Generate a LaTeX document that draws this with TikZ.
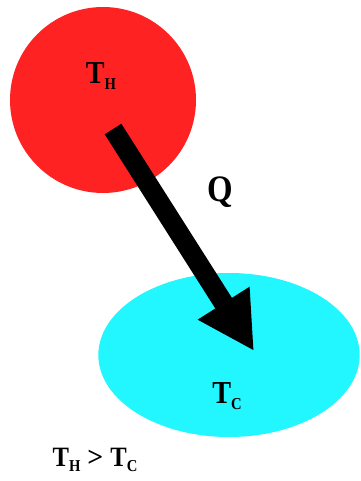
\documentclass[tikz,border=0pt]{standalone}
\usepackage{fontspec}
\setmainfont{Liberation Serif}
\usepackage{xcolor}
\usetikzlibrary{arrows.meta,positioning,shapes.geometric}
\definecolor{hot}{HTML}{FF2222}
\definecolor{cold}{HTML}{22F6FF}
\newcommand{\lowcap}[1]{\raisebox{-0.4ex}{\fontsize{12.5}{12.5}\selectfont #1}}
\newcommand{\narrow}[1]{\scalebox{0.88}[1]{#1}}
\tikzset{
  hotbody/.style={circle, fill=hot, draw=none, minimum size=139.5pt, inner sep=0pt},
  coldbody/.style={ellipse, fill=cold, draw=none, minimum width=196pt,
                   minimum height=123pt, inner sep=0pt},
  temp/.style={font=\fontsize{24}{26}\selectfont\bfseries, inner sep=0pt},
  heat/.style={-{Triangle[length=42.5pt, width=42.8pt]}, line width=14.8pt, draw=black},
  qlabel/.style={font=\fontsize{28}{30}\selectfont\bfseries, inner sep=0pt}
}

\begin{document}
\begin{tikzpicture}[x=0.75pt, y=-0.75pt]
    \useasboundingbox (0,0) rectangle (360,481);

    %% Bodies
    \node[hotbody] (hot) at (103,100) {};
    \node[coldbody] (cold) at (229,355) {};
    \node[temp] (th) at (101,76) {\narrow{T\lowcap{H}}};
    \node[temp] (tc) at (227,396) {\narrow{T\lowcap{C}}};

    %% Heat flow
    \coordinate (qstart) at (113,129);
    \coordinate (qtip) at (254,351);
    \draw[heat] (qstart) -- (qtip);
    \node[qlabel] (q) at (220,192) {\narrow{Q}};

    %% Relation
    \node[temp, font=\fontsize{21}{23}\selectfont\bfseries] (rel) at (95,460)
         {\narrow{T\lowcap{H}} > \narrow{T\lowcap{C}}};
\end{tikzpicture}
\end{document}
